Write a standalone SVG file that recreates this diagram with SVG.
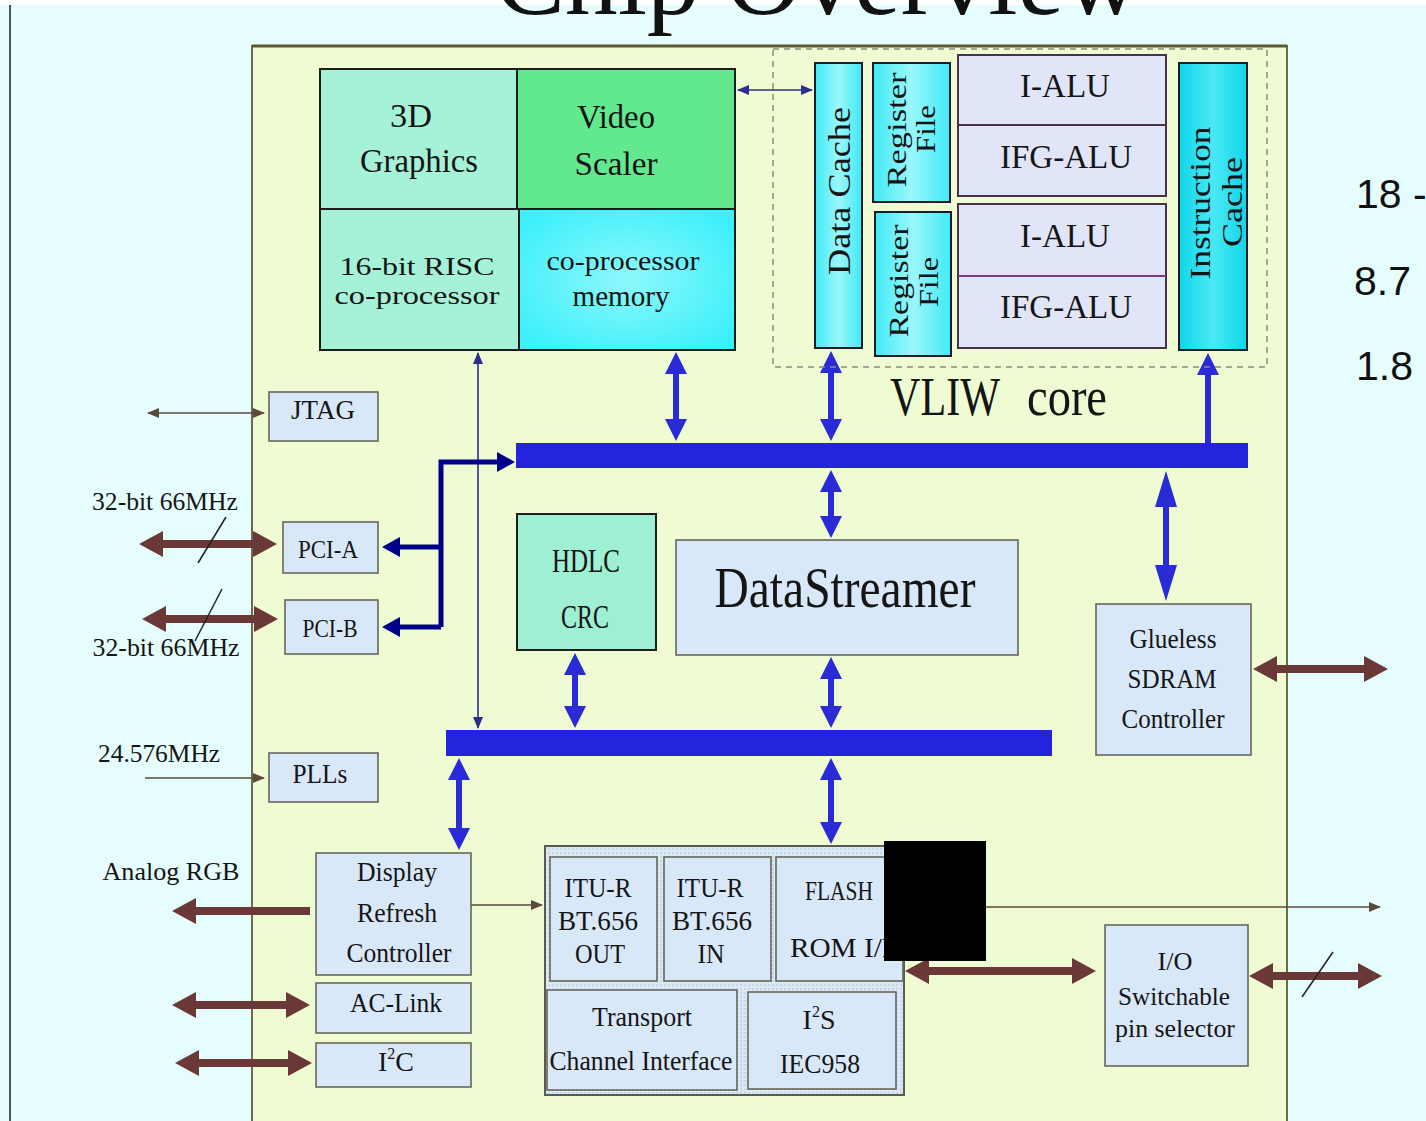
<svg xmlns="http://www.w3.org/2000/svg" width="1426" height="1121" viewBox="0 0 1426 1121">
  <defs>
    <style>
      .t{font-family:"Liberation Serif","Times New Roman",serif;fill:#151515;text-anchor:middle}
      .s{font-family:"Liberation Sans",Arial,sans-serif;fill:#111}
      .box{fill:#d9e8f8;stroke:#66665a;stroke-width:1.6}
      .grid{stroke:#1c1c1c;stroke-width:2}
      .alu{fill:#e1e5f8;stroke:#4a3048;stroke-width:2}
      .cy{stroke:#1c1c2c;stroke-width:2}
      .bus{fill:#2424dc}
      .ab{fill:none;stroke:#2a2ad6;stroke-width:6}
      .ar{fill:none;stroke:#6b3838;stroke-width:8}
      .tb{fill:none;stroke:#2d2d90;stroke-width:1.6}
      .tr{fill:none;stroke:#5a4a3a;stroke-width:1.6}
      .nv{fill:none;stroke:#00008a;stroke-width:5}
      .sl{stroke:#222;stroke-width:1.5}
    </style>
    <marker id="hb" markerUnits="userSpaceOnUse" markerWidth="22" markerHeight="22" viewBox="0 0 22 22" refX="12" refY="11" orient="auto-start-reverse">
      <path d="M0,0 L22,11 L0,22 z" fill="#2a2ad6"/>
    </marker>
    <marker id="hbl" markerUnits="userSpaceOnUse" markerWidth="36" markerHeight="22" viewBox="0 0 36 22" refX="20" refY="11" orient="auto-start-reverse">
      <path d="M0,0 L36,11 L0,22 z" fill="#2a2ad6"/>
    </marker>
    <marker id="hr" markerUnits="userSpaceOnUse" markerWidth="24" markerHeight="26" viewBox="0 0 24 26" refX="12" refY="13" orient="auto-start-reverse">
      <path d="M0,0 L24,13 L0,26 z" fill="#6b3838"/>
    </marker>
    <marker id="hn" markerUnits="userSpaceOnUse" markerWidth="18" markerHeight="20" viewBox="0 0 18 20" refX="10" refY="10" orient="auto-start-reverse">
      <path d="M0,0 L18,10 L0,20 z" fill="#00008a"/>
    </marker>
    <marker id="tbm" markerUnits="userSpaceOnUse" markerWidth="12" markerHeight="10" viewBox="0 0 12 10" refX="11" refY="5" orient="auto-start-reverse">
      <path d="M0,0 L12,5 L0,10 z" fill="#2d2d90"/>
    </marker>
    <marker id="trm" markerUnits="userSpaceOnUse" markerWidth="12" markerHeight="10" viewBox="0 0 12 10" refX="11" refY="5" orient="auto-start-reverse">
      <path d="M0,0 L12,5 L0,10 z" fill="#5a4a3a"/>
    </marker>
    <linearGradient id="cyan" x1="0" y1="0" x2="1" y2="0">
      <stop offset="0" stop-color="#40eaf6"/>
      <stop offset="0.5" stop-color="#9af7fb"/>
      <stop offset="1" stop-color="#40eaf6"/>
    </linearGradient>
    <linearGradient id="cyanD" x1="0" y1="0" x2="1" y2="0">
      <stop offset="0" stop-color="#10d6ea"/>
      <stop offset="0.5" stop-color="#4ae8f4"/>
      <stop offset="1" stop-color="#10d6ea"/>
    </linearGradient>
    <radialGradient id="mem" cx="0.5" cy="0.5" r="0.6">
      <stop offset="0" stop-color="#8ef8fc"/>
      <stop offset="1" stop-color="#3ef0fa"/>
    </radialGradient>
    <pattern id="dots" width="4" height="4" patternUnits="userSpaceOnUse">
      <rect width="4" height="4" fill="#dae8f6"/>
      <circle cx="1" cy="1" r="0.7" fill="#a9b9ca"/>
    </pattern>
  </defs>

  <!-- page -->
  <rect x="0" y="0" width="1426" height="1121" fill="#e6fdfd"/>
  <rect x="0" y="0" width="1426" height="5" fill="#ffffff"/>
  <line x1="10" y1="5" x2="10" y2="1121" stroke="#555" stroke-width="2"/>
  <text x="495" y="14" font-family="Liberation Serif, serif" font-size="104" fill="#111" textLength="645" lengthAdjust="spacingAndGlyphs">Chip Overview</text>

  <!-- side notes -->
  <text class="s" x="1356" y="208" font-size="41">18 -</text>
  <text class="s" x="1354" y="295" font-size="41">8.7</text>
  <text class="s" x="1356" y="380" font-size="41">1.8</text>

  <!-- chip outline -->
  <rect x="252" y="46" width="1035" height="1080" fill="#effcd3" stroke="#6e6a4a" stroke-width="2"/>
  <line x1="252" y1="46" x2="1287" y2="46" stroke="#5c5a30" stroke-width="3"/>

  <g id="connectors">
    <!-- buses -->
    <rect class="bus" x="516" y="443" width="732" height="25"/>
    <rect class="bus" x="446" y="730" width="606" height="26"/>

    <!-- blue bus arrows -->
    <line class="ab" x1="676" y1="362" x2="676" y2="431" marker-start="url(#hb)" marker-end="url(#hb)"/>
    <line class="ab" x1="831" y1="361" x2="831" y2="431" marker-start="url(#hb)" marker-end="url(#hb)"/>
    <line class="ab" x1="1208" y1="443" x2="1208" y2="363" marker-end="url(#hb)"/>
    <line class="ab" x1="831" y1="480" x2="831" y2="528" marker-start="url(#hb)" marker-end="url(#hb)"/>
    <line class="ab" x1="1166" y1="487" x2="1166" y2="585" marker-start="url(#hbl)" marker-end="url(#hbl)"/>
    <line class="ab" x1="831" y1="667" x2="831" y2="718" marker-start="url(#hb)" marker-end="url(#hb)"/>
    <line class="ab" x1="575" y1="663" x2="575" y2="718" marker-start="url(#hb)" marker-end="url(#hb)"/>
    <line class="ab" x1="459" y1="768" x2="459" y2="840" marker-start="url(#hb)" marker-end="url(#hb)"/>
    <line class="ab" x1="831" y1="768" x2="831" y2="834" marker-start="url(#hb)" marker-end="url(#hb)"/>

    <!-- thin blue links -->
    <line class="tb" x1="738" y1="90" x2="812" y2="90" marker-start="url(#tbm)" marker-end="url(#tbm)"/>
    <line class="tb" x1="478" y1="353" x2="478" y2="728" marker-start="url(#tbm)" marker-end="url(#tbm)"/>

    <!-- PCI fan-out -->
    <path class="nv" d="M441,627 V462 H507" marker-end="url(#hn)"/>
    <path class="nv" d="M441,547 H390" marker-end="url(#hn)"/>
    <path class="nv" d="M441,627 H390" marker-end="url(#hn)"/>

    <!-- external pins (thick) -->
    <line class="ar" x1="151" y1="544" x2="265" y2="544" marker-start="url(#hr)" marker-end="url(#hr)"/>
    <line class="ar" x1="154" y1="619" x2="266" y2="619" marker-start="url(#hr)" marker-end="url(#hr)"/>
    <line class="ar" x1="310" y1="911" x2="184" y2="911" marker-end="url(#hr)"/>
    <line class="ar" x1="184" y1="1005" x2="298" y2="1005" marker-start="url(#hr)" marker-end="url(#hr)"/>
    <line class="ar" x1="187" y1="1063" x2="300" y2="1063" marker-start="url(#hr)" marker-end="url(#hr)"/>
    <line class="ar" x1="1265" y1="669" x2="1376" y2="669" marker-start="url(#hr)" marker-end="url(#hr)"/>
    <line class="ar" x1="917" y1="971" x2="1084" y2="971" marker-start="url(#hr)" marker-end="url(#hr)"/>
    <line class="ar" x1="1261" y1="976" x2="1370" y2="976" marker-start="url(#hr)" marker-end="url(#hr)"/>

    <!-- external pins (thin) -->
    <line class="tr" x1="148" y1="413" x2="264" y2="413" marker-start="url(#trm)" marker-end="url(#trm)"/>
    <line class="tr" x1="145" y1="778" x2="264" y2="778" marker-end="url(#trm)"/>
    <line class="tr" x1="471" y1="905" x2="542" y2="905" marker-end="url(#trm)"/>
    <line class="tr" x1="904" y1="907" x2="1380" y2="907" marker-end="url(#trm)"/>

    <!-- bus-width slashes -->
    <line class="sl" x1="198" y1="563" x2="226" y2="517"/>
    <line class="sl" x1="195" y1="641" x2="222" y2="589"/>
    <line class="sl" x1="1302" y1="997" x2="1333" y2="952"/>
  </g>

  <!-- co-processor block -->
  <g id="graphics-3d">
    <rect class="grid" x="320" y="69" width="197" height="140" fill="#a6f2d8"/>
    <text class="t" x="411" y="127" font-size="34" textLength="42" lengthAdjust="spacingAndGlyphs">3D</text>
    <text class="t" x="419" y="172" font-size="34" textLength="118" lengthAdjust="spacingAndGlyphs">Graphics</text>
  </g>
  <g id="video-scaler">
    <rect class="grid" x="517" y="69" width="218" height="140" fill="#62e88e"/>
    <text class="t" x="616" y="128" font-size="34" textLength="78" lengthAdjust="spacingAndGlyphs">Video</text>
    <text class="t" x="616" y="175" font-size="34" textLength="83" lengthAdjust="spacingAndGlyphs">Scaler</text>
  </g>
  <g id="risc-coprocessor">
    <rect class="grid" x="320" y="209" width="199" height="141" fill="#a6f2d8"/>
    <text class="t" x="417" y="275" font-size="26" textLength="155" lengthAdjust="spacingAndGlyphs">16-bit RISC</text>
    <text class="t" x="417" y="304" font-size="26" textLength="165" lengthAdjust="spacingAndGlyphs">co-processor</text>
  </g>
  <g id="coprocessor-memory">
    <rect class="grid" x="519" y="209" width="216" height="141" fill="url(#mem)"/>
    <text class="t" x="623" y="270" font-size="28" textLength="153" lengthAdjust="spacingAndGlyphs">co-processor</text>
    <text class="t" x="621" y="306" font-size="30" textLength="97" lengthAdjust="spacingAndGlyphs">memory</text>
  </g>

  <!-- VLIW core -->
  <g id="vliw-core">
    <rect x="773" y="49" width="494" height="318" fill="none" stroke="#8c8c7c" stroke-width="1.5" stroke-dasharray="6 5"/>
    <text class="t" x="945" y="415" font-size="54" textLength="110" lengthAdjust="spacingAndGlyphs">VLIW</text>
    <text class="t" x="1067" y="415" font-size="54" textLength="80" lengthAdjust="spacingAndGlyphs">core</text>
  </g>
  <g id="data-cache">
    <rect class="cy" x="815" y="63" width="47" height="285" fill="url(#cyan)"/>
    <text class="t" transform="translate(850,191) rotate(-90)" font-size="32" textLength="168" lengthAdjust="spacingAndGlyphs">Data Cache</text>
  </g>
  <g id="register-file-1">
    <rect class="cy" x="873" y="63" width="77" height="139" fill="url(#cyan)"/>
    <text class="t" transform="translate(906,130) rotate(-90)" font-size="27" textLength="115" lengthAdjust="spacingAndGlyphs">Register</text>
    <text class="t" transform="translate(935,129) rotate(-90)" font-size="27" textLength="48" lengthAdjust="spacingAndGlyphs">File</text>
  </g>
  <g id="register-file-2">
    <rect class="cy" x="875" y="212" width="76" height="144" fill="url(#cyan)"/>
    <text class="t" transform="translate(908,281) rotate(-90)" font-size="27" textLength="113" lengthAdjust="spacingAndGlyphs">Register</text>
    <text class="t" transform="translate(938,282) rotate(-90)" font-size="27" textLength="50" lengthAdjust="spacingAndGlyphs">File</text>
  </g>
  <g id="alu-pair-1">
    <rect class="alu" x="958" y="55" width="208" height="141"/>
    <line x1="958" y1="125" x2="1166" y2="125" stroke="#4a3048" stroke-width="2"/>
    <text class="t" x="1065" y="97" font-size="34" textLength="90" lengthAdjust="spacingAndGlyphs">I-ALU</text>
    <text class="t" x="1066" y="168" font-size="34" textLength="132" lengthAdjust="spacingAndGlyphs">IFG-ALU</text>
  </g>
  <g id="alu-pair-2">
    <rect class="alu" x="958" y="204" width="208" height="144"/>
    <line x1="958" y1="276" x2="1166" y2="276" stroke="#7a3a78" stroke-width="2"/>
    <text class="t" x="1065" y="247" font-size="34" textLength="90" lengthAdjust="spacingAndGlyphs">I-ALU</text>
    <text class="t" x="1066" y="318" font-size="34" textLength="132" lengthAdjust="spacingAndGlyphs">IFG-ALU</text>
  </g>
  <g id="instruction-cache">
    <rect class="cy" x="1179" y="63" width="68" height="287" fill="url(#cyanD)"/>
    <text class="t" transform="translate(1210,203) rotate(-90)" font-size="30" textLength="153" lengthAdjust="spacingAndGlyphs">Instruction</text>
    <text class="t" transform="translate(1242,202) rotate(-90)" font-size="30" textLength="90" lengthAdjust="spacingAndGlyphs">Cache</text>
  </g>

  <!-- left-side interfaces -->
  <g id="jtag">
    <rect class="box" x="269" y="392" width="109" height="49"/>
    <text class="t" x="323" y="419" font-size="28" textLength="64" lengthAdjust="spacingAndGlyphs">JTAG</text>
  </g>
  <g id="pci-a">
    <rect class="box" x="283" y="522" width="95" height="51"/>
    <text class="t" x="328" y="558" font-size="26" textLength="60" lengthAdjust="spacingAndGlyphs">PCI-A</text>
  </g>
  <g id="pci-b">
    <rect class="box" x="285" y="600" width="93" height="54"/>
    <text class="t" x="330" y="637" font-size="26" textLength="55" lengthAdjust="spacingAndGlyphs">PCI-B</text>
  </g>
  <g id="plls">
    <rect class="box" x="269" y="753" width="109" height="49"/>
    <text class="t" x="320" y="783" font-size="28" textLength="55" lengthAdjust="spacingAndGlyphs">PLLs</text>
  </g>
  <g id="pin-labels">
    <text class="t" x="165" y="510" font-size="25" textLength="146" lengthAdjust="spacingAndGlyphs">32-bit 66MHz</text>
    <text class="t" x="166" y="656" font-size="25" textLength="147" lengthAdjust="spacingAndGlyphs">32-bit 66MHz</text>
    <text class="t" x="159" y="762" font-size="25" textLength="122" lengthAdjust="spacingAndGlyphs">24.576MHz</text>
    <text class="t" x="171" y="880" font-size="26" textLength="137" lengthAdjust="spacingAndGlyphs">Analog RGB</text>
  </g>

  <!-- middle blocks -->
  <g id="hdlc-crc">
    <rect x="517" y="514" width="139" height="136" fill="#9ef0d2" stroke="#1e1e1e" stroke-width="2"/>
    <text class="t" x="586" y="572" font-size="34" textLength="68" lengthAdjust="spacingAndGlyphs">HDLC</text>
    <text class="t" x="585" y="628" font-size="34" textLength="48" lengthAdjust="spacingAndGlyphs">CRC</text>
  </g>
  <g id="datastreamer">
    <rect class="box" x="676" y="540" width="342" height="115" fill="#dce8f7"/>
    <text class="t" x="845" y="607" font-size="56" textLength="261" lengthAdjust="spacingAndGlyphs">DataStreamer</text>
  </g>
  <g id="sdram-controller">
    <rect class="box" x="1096" y="604" width="155" height="151"/>
    <text class="t" x="1173" y="648" font-size="27" textLength="87" lengthAdjust="spacingAndGlyphs">Glueless</text>
    <text class="t" x="1172" y="688" font-size="27" textLength="89" lengthAdjust="spacingAndGlyphs">SDRAM</text>
    <text class="t" x="1173" y="728" font-size="27" textLength="103" lengthAdjust="spacingAndGlyphs">Controller</text>
  </g>

  <!-- bottom-left peripherals -->
  <g id="display-refresh">
    <rect class="box" x="316" y="853" width="155" height="122"/>
    <text class="t" x="397" y="881" font-size="28" textLength="80" lengthAdjust="spacingAndGlyphs">Display</text>
    <text class="t" x="397" y="922" font-size="28" textLength="80" lengthAdjust="spacingAndGlyphs">Refresh</text>
    <text class="t" x="399" y="962" font-size="28" textLength="105" lengthAdjust="spacingAndGlyphs">Controller</text>
  </g>
  <g id="ac-link">
    <rect class="box" x="316" y="983" width="155" height="50"/>
    <text class="t" x="396" y="1012" font-size="28" textLength="92" lengthAdjust="spacingAndGlyphs">AC-Link</text>
  </g>
  <g id="i2c">
    <rect class="box" x="316" y="1043" width="155" height="44"/>
    <text class="t" x="396" y="1071" font-size="28">I<tspan font-size="16" dy="-12">2</tspan><tspan dy="12">C</tspan></text>
  </g>

  <!-- multimedia / flash group -->
  <g id="media-io">
    <rect x="545" y="846" width="359" height="249" fill="url(#dots)" stroke="#5a5a50" stroke-width="2"/>
  </g>
  <g id="itu-out">
    <rect class="box" x="550" y="857" width="107" height="124"/>
    <text class="t" x="598" y="897" font-size="28" textLength="67" lengthAdjust="spacingAndGlyphs">ITU-R</text>
    <text class="t" x="598" y="930" font-size="28" textLength="80" lengthAdjust="spacingAndGlyphs">BT.656</text>
    <text class="t" x="600" y="963" font-size="28" textLength="50" lengthAdjust="spacingAndGlyphs">OUT</text>
  </g>
  <g id="itu-in">
    <rect class="box" x="664" y="857" width="107" height="124"/>
    <text class="t" x="710" y="897" font-size="28" textLength="67" lengthAdjust="spacingAndGlyphs">ITU-R</text>
    <text class="t" x="712" y="930" font-size="28" textLength="80" lengthAdjust="spacingAndGlyphs">BT.656</text>
    <text class="t" x="711" y="963" font-size="28" textLength="27" lengthAdjust="spacingAndGlyphs">IN</text>
  </g>
  <g id="flash-rom">
    <rect class="box" x="776" y="857" width="127" height="124"/>
    <text class="t" x="839" y="900" font-size="28" textLength="68" lengthAdjust="spacingAndGlyphs">FLASH</text>
    <text class="t" x="844" y="957" font-size="28" textLength="108" lengthAdjust="spacingAndGlyphs">ROM I/F</text>
  </g>
  <g id="transport-channel">
    <rect class="box" x="547" y="990" width="190" height="100"/>
    <text class="t" x="642" y="1026" font-size="27" textLength="100" lengthAdjust="spacingAndGlyphs">Transport</text>
    <text class="t" x="641" y="1070" font-size="27" textLength="183" lengthAdjust="spacingAndGlyphs">Channel  Interface</text>
  </g>
  <g id="i2s-iec958">
    <rect class="box" x="748" y="992" width="148" height="97"/>
    <text class="t" x="819" y="1029" font-size="28">I<tspan font-size="16" dy="-12">2</tspan><tspan dy="12">S</tspan></text>
    <text class="t" x="820" y="1073" font-size="28" textLength="80" lengthAdjust="spacingAndGlyphs">IEC958</text>
  </g>

  <g id="io-pin-selector">
    <rect class="box" x="1105" y="925" width="143" height="141" fill="#e4f3fb"/>
    <text class="t" x="1175" y="970" font-size="26" textLength="35" lengthAdjust="spacingAndGlyphs">I/O</text>
    <text class="t" x="1174" y="1005" font-size="26" textLength="112" lengthAdjust="spacingAndGlyphs">Switchable</text>
    <text class="t" x="1175" y="1037" font-size="26" textLength="120" lengthAdjust="spacingAndGlyphs">pin  selector</text>
  </g>

  <!-- redaction block -->
  <rect x="884" y="841" width="102" height="120" fill="#000"/>
</svg>
